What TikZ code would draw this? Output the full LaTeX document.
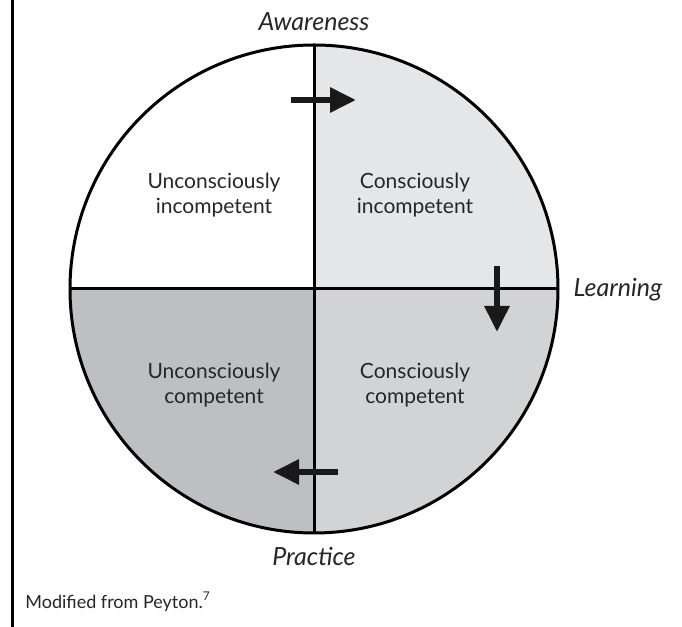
\documentclass[tikz,border=0pt]{standalone}
\usepackage{fontspec}
\setmainfont{Lato}
\usetikzlibrary{arrows.meta}

\definecolor{quadA}{HTML}{E5E6E8}
\definecolor{quadB}{HTML}{D2D3D5}
\definecolor{quadC}{HTML}{BEBFC2}

\begin{document}
\begin{tikzpicture}
  [x=0.5pt,y=0.5pt,
   quad/.style={align=center,font=\fontsize{10.5}{12.5}\selectfont,text=black!85},
   axislabel/.style={font=\itshape\fontsize{12.5}{14}\selectfont,text=black!85},
   move/.style={line width=3pt,-{Triangle[length=13pt,width=12pt]},black!90}]
  \useasboundingbox (0,0) rectangle (682,627);
  \draw[line width=1.5pt] (12,0) -- (12,627);

  % quadrants
  \fill[quadA] (314,338) -- (558,338) arc (0:90:244) -- cycle;
  \fill[quadB] (314,338) -- (314,94) arc (270:360:244) -- cycle;
  \fill[quadC] (314,338) -- (70,338) arc (180:270:244) -- cycle;

  \coordinate (c) at (314,338);
  \coordinate (top) at (314,582);
  \coordinate (bot) at (314,94);
  \coordinate (lft) at (70,338);
  \coordinate (rgt) at (558,338);
  \draw[line width=1.5pt] (c) circle (244);
  \draw[line width=1.5pt] (top) -- (bot);
  \draw[line width=1.5pt] (lft) -- (rgt);

  \node[quad] (ui) at (214,432) {Unconsciously\\incompetent};
  \node[quad] (ci) at (415,432) {Consciously\\incompetent};
  \node[quad] (uc) at (214,242) {Unconsciously\\competent};
  \node[quad] (cc) at (415,242) {Consciously\\competent};

  \node[axislabel] (aw) at (314,605) {Awareness};
  \node[axislabel] (le) at (618,337) {Learning};
  \node[axislabel] (pr) at (314,71) {Practice};
  \node[anchor=west,font=\fontsize{9}{11}\selectfont,text=black!85,inner sep=0pt] (src) at (25,25) {Modified from Peyton.\textsuperscript{7}};

  % arrows
  \coordinate (a1) at (291,527);
  \coordinate (a2) at (356,527);
  \coordinate (b1) at (497,361);
  \coordinate (b2) at (497,295);
  \coordinate (p1) at (338,155);
  \coordinate (p2) at (273,155);
  \foreach \from/\to in {a1/a2, b1/b2, p1/p2}
    \draw[move] (\from) -- (\to);

\end{tikzpicture}
\end{document}
